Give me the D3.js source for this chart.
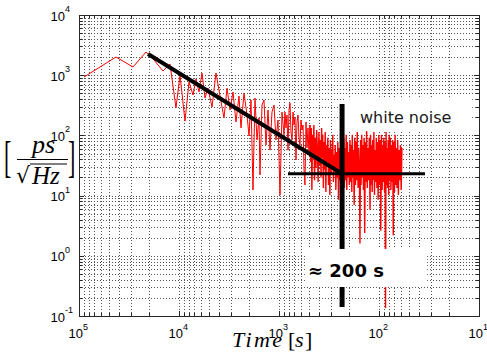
<!DOCTYPE html>
<html>
<head>
<meta charset="utf-8">
<script src="https://cdn.jsdelivr.net/npm/d3@7"></script>
<style>
  html, body { margin: 0; padding: 0; background: #fff; }
  svg { display: block; }
</style>
</head>
<body>
<svg id="chart" width="487" height="360"></svg>
<script>
// tick exponents
const xDecades = [5, 4, 3, 2, 1];
const yDecades = [4, 3, 2, 1, 0, -1];

// periods [s] of the red trace (left to right)
const periods = [
  89100, 42660, 28840, 21380, 17780, 14450, 12300, 10720, 9772, 8710, 7943, 7244, 6761, 6310, 5888, 5495,
  5129, 4677, 4266, 3890, 3548, 3311, 3090, 2884, 2692, 2512, 2399, 2239, 2089, 1995, 1905, 1820,
  1738, 1660, 1585, 1549, 1479, 1413, 1349, 1288, 1230, 1175, 1122, 1072, 1023, 977, 933,
  891, 871, 851, 832, 813, 794, 776, 759, 741, 724, 708, 692, 676, 661, 646, 631, 617, 603, 589, 575,
  562, 550, 537, 525, 513, 501, 490,
  483, 476, 469, 462, 455, 448, 441, 434, 427, 420, 413, 406, 399, 392,
  385, 380, 375, 370, 365, 360, 355, 350, 345, 340, 335, 330, 325, 320, 315, 310,
  306, 302, 298, 294, 290, 286, 282, 278, 274, 270, 266, 262, 258, 254, 250, 246,
  243, 240, 237, 234, 231, 228, 225, 222, 219, 216, 213, 210, 207, 204, 201, 198, 195,
  192, 190, 187, 185, 182, 180, 177, 175, 172, 170, 167, 165, 162, 160, 157, 155,
  153, 151, 149, 147, 145, 143, 141, 139, 137, 135, 133, 131, 129, 127, 125, 123,
  121.5, 120, 118.5, 117, 115.5, 114, 112.5, 111, 109.5, 108, 106.5, 105, 103.5, 102, 100.5, 99,
  97, 96, 94.5, 93, 92, 91, 89.5, 88, 87, 86, 85, 84, 83, 82, 81, 80, 79, 78,
  77, 76, 75, 74, 73, 72, 71, 70, 69, 68, 67, 66, 65, 64, 63, 62, 61, 60, 59
];

// noise level [ps/sqrt(Hz)] for each period
const psd = [
  933, 2005, 1368, 2427, 1787, 1175, 1534, 285, 1007, 173, 771, 469, 865, 526, 1089, 418,
  612, 296, 1089, 451, 195, 612, 264, 526, 167, 451, 133, 505, 218, 98, 387, 12.4,
  418, 84, 195, 22, 320, 387, 69, 264, 57, 245, 320, 84, 180, 10.2, 245,
  102, 245, 133, 218, 57, 264, 345, 114, 84, 245, 149, 195, 39, 167, 218, 91, 69, 180, 123, 149,
  27, 15, 167, 62, 133, 47, 149,
  36, 133, 12.4, 102, 47, 149, 18, 91, 29, 123, 57, 16.8, 114, 32,
  84, 20, 133, 42, 102, 13.4, 78, 27, 114, 11.5, 69, 36, 91, 15, 62, 10.2,
  84, 22, 57, 29, 102, 16.8, 47, 24.6, 69, 12.4, 53, 20, 78, 8.5, 62, 18,
  57, 22, 69, 15, 47, 27, 91, 13.4, 62, 18, 102, 12.4, 78, 20, 53, 15, 84,
  16.8, 69, 11.5, 102, 20, 57, 7.0, 91, 15, 78, 18, 114, 13.4, 62, 24.6, 1.6,
  84, 15, 102, 20, 69, 12.4, 91, 2.4, 78, 16.8, 123, 13.4, 62, 18, 91, 5.8,
  102, 15, 69, 11.5, 84, 18, 114, 10.2, 57, 16.8, 91, 13.4, 78, 8.5, 102, 15,
  84, 2.6, 102, 12.4, 69, 16.8, 91, 11.5, 78, 0.136, 114, 15, 62, 13.4, 84, 10.2, 102, 18,
  91, 12.4, 69, 16.8, 84, 2.2, 78, 11.5, 102, 15, 62, 13.4, 84, 10.2, 57, 18, 69, 12.4, 62
];
const denseFrom = 490; // below this period the trace is a dense band

// black guide lines
const slopePeriods = [20400, 234];
const slopeValues = [2250, 23];
const floorPeriods = [813, 34.7];
const floorValue = 23;
const cornerPeriod = 234;
const cornerValues = [333, 0.141];

const W = 487, H = 360;
const margin = { top: 15, right: 8, bottom: 44, left: 79 };

const svg = d3.select('#chart');
const x = d3.scaleLog().domain([1e5, 10]).range([margin.left, W - margin.right]);
const y = d3.scaleLog().domain([0.1, 1e4]).range([H - margin.bottom, margin.top]);
const x0 = margin.left, x1 = W - margin.right, y0 = H - margin.bottom, y1 = margin.top;
const px = v => Math.round(v) + 0.5;

// dotted grid (major + minor)
const grid = svg.append('g').attr('stroke', '#555').attr('stroke-dasharray', '1,2').attr('shape-rendering', 'crispEdges');
x.ticks().forEach(t => {
  grid.append('line').attr('x1', px(x(t))).attr('x2', px(x(t))).attr('y1', y1).attr('y2', y0);
});
y.ticks().forEach(t => {
  grid.append('line').attr('y1', px(y(t))).attr('y2', px(y(t))).attr('x1', x0).attr('x2', x1);
});

// red trace: sparse part thin, dense part a bit heavier so it reads as a band
const trace = periods.map((p, i) => [p, psd[i]]);
const line = d3.line().x(d => x(d[0])).y(d => y(d[1]));
svg.append('path').datum(trace.filter(d => d[0] >= denseFrom))
  .attr('fill', 'none').attr('stroke', '#ff0000').attr('stroke-width', 1)
  .attr('d', line);
svg.append('path').datum(trace.filter(d => d[0] <= denseFrom))
  .attr('fill', 'none').attr('stroke', '#ff0000').attr('stroke-width', 1.4)
  .attr('d', line);

// guide lines
svg.append('line')
  .attr('x1', x(slopePeriods[0])).attr('y1', y(slopeValues[0]))
  .attr('x2', x(slopePeriods[1])).attr('y2', y(slopeValues[1]))
  .attr('stroke', '#000').attr('stroke-width', 4);
svg.append('line')
  .attr('x1', x(floorPeriods[0])).attr('x2', x(floorPeriods[1]))
  .attr('y1', y(floorValue)).attr('y2', y(floorValue))
  .attr('stroke', '#000').attr('stroke-width', 3);
svg.append('line')
  .attr('x1', x(cornerPeriod)).attr('x2', x(cornerPeriod))
  .attr('y1', y(cornerValues[0])).attr('y2', y(cornerValues[1]))
  .attr('stroke', '#000').attr('stroke-width', 5);

// annotation boxes
svg.append('rect')
  .attr('x', x(219)).attr('y', y(418)).attr('width', x(11.7) - x(219)).attr('height', y(118) - y(418))
  .attr('fill', '#fff');
svg.append('text').attr('x', x(155)).attr('y', y(161))
  .attr('font-family', 'DejaVu Sans').attr('font-size', 16).attr('fill', '#1a1a1a')
  .text('white noise');

svg.append('rect')
  .attr('x', x(550)).attr('y', y(1.3)).attr('width', x(33) - x(550)).attr('height', y(0.303) - y(1.3))
  .attr('fill', '#fff');
svg.append('text').attr('x', x(513)).attr('y', y(0.445))
  .attr('font-family', 'DejaVu Sans').attr('font-weight', 'bold').attr('font-size', 18).attr('fill', '#000')
  .text('≈ 200 s');

// frame + inner ticks
const frame = svg.append('g').attr('stroke', '#262626').attr('shape-rendering', 'crispEdges');
frame.append('rect').attr('x', x0 + 0.5).attr('y', y1 + 0.5).attr('width', x1 - x0).attr('height', y0 - y1)
  .attr('fill', 'none');
x.ticks().forEach(t => {
  const len = Number.isInteger(Math.log10(t)) ? 5 : 3;
  const xx = px(x(t));
  frame.append('line').attr('x1', xx).attr('x2', xx).attr('y1', y0).attr('y2', y0 - len);
  frame.append('line').attr('x1', xx).attr('x2', xx).attr('y1', y1).attr('y2', y1 + len);
});
y.ticks().forEach(t => {
  const len = Number.isInteger(Math.log10(t)) ? 5 : 3;
  const yy = px(y(t));
  frame.append('line').attr('y1', yy).attr('y2', yy).attr('x1', x0).attr('x2', x0 + len);
  frame.append('line').attr('y1', yy).attr('y2', yy).attr('x1', x1).attr('x2', x1 - len);
});

// tick labels
const lab = svg.append('g').attr('font-family', 'Liberation Sans, Arial, sans-serif').attr('fill', '#000');
xDecades.forEach(e => {
  const t = lab.append('text').attr('x', x(Math.pow(10, e)) - 10.5).attr('y', 338).attr('font-size', 13);
  t.append('tspan').text('10');
  t.append('tspan').attr('dy', -8.5).attr('font-size', 9).text(e);
});
yDecades.forEach(e => {
  const t = lab.append('text').attr('x', 50.5).attr('y', y(Math.pow(10, e)) + 5.5).attr('font-size', 13);
  t.append('tspan').text('10');
  t.append('tspan').attr('dy', -8.5).attr('font-size', 9).text(e);
});

// axis labels
const serif = 'Liberation Serif, Times New Roman, serif';
svg.append('text').attr('x', 232).attr('y', 347).attr('font-family', serif).attr('font-style', 'italic')
  .attr('font-size', 22).attr('textLength', 50).attr('lengthAdjust', 'spacing').text('Time');
svg.append('text').attr('x', 288).attr('y', 347).attr('font-family', serif).attr('font-size', 22).text('[');
svg.append('text').attr('x', 295).attr('y', 347).attr('font-family', serif).attr('font-style', 'italic').attr('font-size', 22).text('s');
svg.append('text').attr('x', 305).attr('y', 347).attr('font-family', serif).attr('font-size', 22).text(']');

const yl = svg.append('g').attr('font-family', serif).attr('fill', '#000');
yl.append('text').attr('transform', 'translate(4,172) scale(1,2.0)').attr('font-size', 22).text('[');
yl.append('text').attr('transform', 'translate(68,172) scale(1,2.0)').attr('font-size', 22).text(']');
yl.append('text').attr('x', 32).attr('y', 153).attr('font-size', 26).attr('font-style', 'italic').text('ps');
yl.append('line').attr('x1', 17).attr('x2', 68).attr('y1', 159.5).attr('y2', 159.5).attr('stroke', '#000').attr('stroke-width', 1.2);
yl.append('text').attr('x', 16).attr('y', 183).attr('font-family', 'DejaVu Sans').attr('font-size', 22).text('√');
yl.append('line').attr('x1', 30).attr('x2', 67).attr('y1', 164).attr('y2', 164).attr('stroke', '#000').attr('stroke-width', 1);
yl.append('text').attr('x', 32).attr('y', 184).attr('font-size', 25).attr('font-style', 'italic').text('Hz');
</script>
</body>
</html>
